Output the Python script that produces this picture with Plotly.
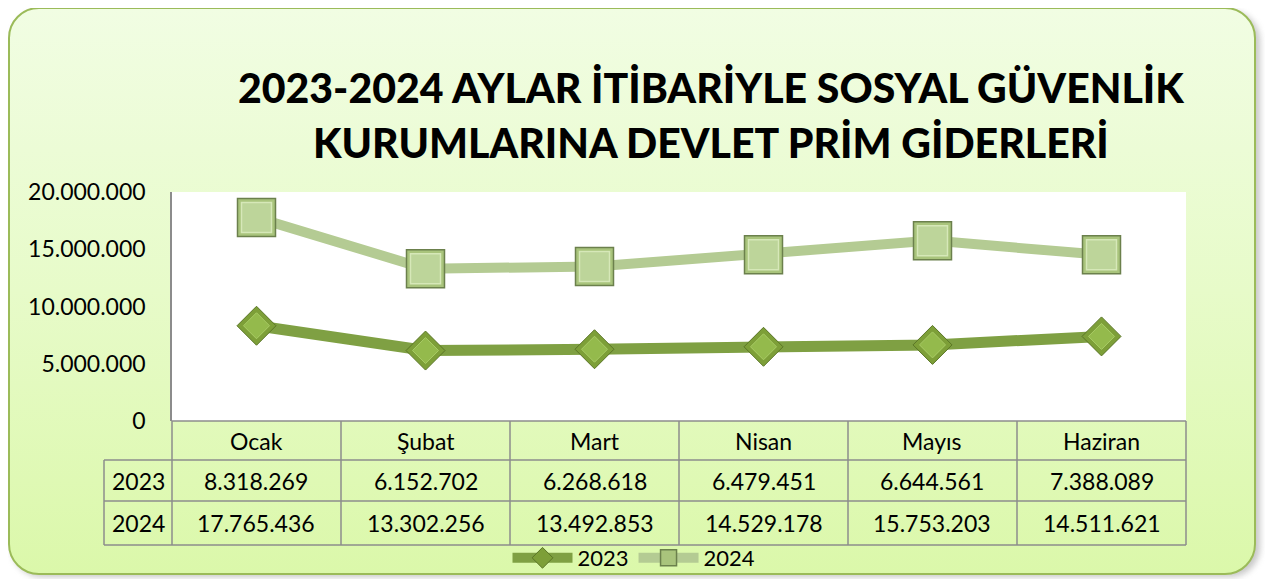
import base64
import plotly.graph_objects as go

# ---------------- data ----------------
months = ["Ocak", "Şubat", "Mart", "Nisan", "Mayıs", "Haziran"]
series_names = ["2023", "2024"]
values_2023 = [8318269, 6152702, 6268618, 6479451, 6644561, 7388089]
values_2024 = [17765436, 13302256, 13492853, 14529178, 15753203, 14511621]
y_ticks = [0, 5000000, 10000000, 15000000, 20000000]
title_lines = ["2023-2024 AYLAR İTİBARİYLE SOSYAL GÜVENLİK",
               "KURUMLARINA DEVLET PRİM GİDERLERİ"]

# ---------------- geometry (screen pixels) ----------------
W, H = 1273, 579
OFF = 8                   # page body margin compensation
PX0, PX1 = 172, 1186      # plot area x
PY0, PY1 = 192, 421       # plot area y (top, bottom)
LBL0 = 104                # table row-label column left edge
ROWS = [421, 460, 501, 545]
FONT = "Lato"


def fx(x):
    return (x - OFF) / W


def fy(y):
    return 1 - (y - OFF) / H


def fmt(v):
    return f"{v:,}".replace(",", ".")


o = OFF
# background as an SVG (gradient rounded panel + white plot area)
svg = f'''<svg xmlns="http://www.w3.org/2000/svg" width="{W}" height="{H}" viewBox="0 0 {W} {H}">
<defs>
<linearGradient id="g" x1="0" y1="0" x2="0" y2="1">
<stop offset="0" stop-color="#F1FDE3"/>
<stop offset="0.5" stop-color="#E7FBC9"/>
<stop offset="1" stop-color="#DBF8AA"/>
</linearGradient>
<filter id="s" x="-5%" y="-5%" width="110%" height="110%">
<feGaussianBlur stdDeviation="3"/>
</filter>
</defs>
<rect x="0" y="0" width="{W}" height="{H}" fill="#FFFFFF"/>
<rect x="{12-o}" y="{11-o}" width="1248" height="566" rx="30" ry="30" fill="#9A9A9A" opacity="0.55" filter="url(#s)"/>
<rect x="{8-o+1}" y="{7-o+1}" width="1246" height="566" rx="30" ry="30" fill="url(#g)" stroke="#9BBB59" stroke-width="2"/>
<rect x="{PX0-o}" y="{PY0-o}" width="{PX1-PX0}" height="{PY1-PY0}" fill="#FFFFFF"/>
</svg>'''
svg_uri = "data:image/svg+xml;base64," + base64.b64encode(svg.encode("utf-8")).decode()

fig = go.Figure()

# 2024 series
fig.add_trace(go.Scatter(
    x=months, y=values_2024, name=series_names[1], mode="lines+markers",
    line=dict(color="#B4CB93", width=10),
    marker=dict(symbol="square", size=38, color="#A9C47C",
                line=dict(color="#6B804C", width=1.5)),
))
fig.add_trace(go.Scatter(
    x=months, y=values_2024, mode="markers", showlegend=False, hoverinfo="skip",
    marker=dict(symbol="square", size=30, color="#BDD59A",
                line=dict(color="#D6E8B8", width=1.5)),
))
# 2023 series
fig.add_trace(go.Scatter(
    x=months, y=values_2023, name=series_names[0], mode="lines+markers",
    line=dict(color="#7FA043", width=11),
    marker=dict(symbol="diamond", size=30, color="#7D9F38",
                line=dict(color="#5A7526", width=1)),
))
fig.add_trace(go.Scatter(
    x=months, y=values_2023, mode="markers", showlegend=False, hoverinfo="skip",
    marker=dict(symbol="diamond", size=20, color="#94BA4C",
                line=dict(color="#A9CC66", width=1)),
))

shapes = []
grid = dict(color="#8C8C8C", width=1.5)
# horizontal table lines
shapes.append(dict(type="line", xref="paper", yref="paper",
                   x0=fx(PX0), x1=fx(PX1), y0=fy(ROWS[0]), y1=fy(ROWS[0]), line=grid))
for r in ROWS[1:]:
    shapes.append(dict(type="line", xref="paper", yref="paper",
                       x0=fx(LBL0), x1=fx(PX1), y0=fy(r), y1=fy(r), line=grid))
# vertical table lines
colw = (PX1 - PX0) / len(months)
for i in range(len(months) + 1):
    x = PX0 + i * colw
    shapes.append(dict(type="line", xref="paper", yref="paper",
                       x0=fx(x), x1=fx(x), y0=fy(ROWS[0]), y1=fy(ROWS[-1]), line=grid))
shapes.append(dict(type="line", xref="paper", yref="paper",
                   x0=fx(LBL0), x1=fx(LBL0), y0=fy(ROWS[1]), y1=fy(ROWS[-1]), line=grid))

annotations = []
for ln, yc in zip(title_lines, [87, 143]):
    annotations.append(dict(text=ln, xref="paper", yref="paper",
                            x=fx(711), y=fy(yc), showarrow=False,
                            xanchor="center", yanchor="middle",
                            font=dict(family=FONT, size=41, weight=900, color="#000000")))

cell_font = dict(family=FONT, size=23, color="#000000")
for i, m in enumerate(months):
    xc = PX0 + (i + 0.5) * colw
    annotations.append(dict(text=m, xref="paper", yref="paper", x=fx(xc),
                            y=fy((ROWS[0] + ROWS[1]) / 2), showarrow=False,
                            xanchor="center", yanchor="middle", font=cell_font))
    for r, vals in enumerate([values_2023, values_2024]):
        annotations.append(dict(text=fmt(vals[i]), xref="paper", yref="paper", x=fx(xc),
                                y=fy((ROWS[r + 1] + ROWS[r + 2]) / 2), showarrow=False,
                                xanchor="center", yanchor="middle", font=cell_font))
for r, nm in enumerate(series_names):
    annotations.append(dict(text=nm, xref="paper", yref="paper", x=fx((LBL0 + PX0) / 2),
                            y=fy((ROWS[r + 1] + ROWS[r + 2]) / 2), showarrow=False,
                            xanchor="center", yanchor="middle", font=cell_font))

fig.update_layout(
    template="none",
    width=W, height=H,
    margin=dict(l=0, r=0, t=0, b=0, pad=0, autoexpand=False),
    paper_bgcolor="#FFFFFF",
    plot_bgcolor="rgba(0,0,0,0)",
    separators=",.",
    images=[dict(source=svg_uri, xref="paper", yref="paper", x=0, y=1,
                 sizex=1, sizey=1, sizing="stretch", xanchor="left", yanchor="top",
                 layer="below")],
    xaxis=dict(domain=[fx(PX0), fx(PX1)], range=[-0.5, len(months) - 0.5],
               showticklabels=False, showgrid=False, zeroline=False, showline=False,
               ticks="", automargin=False, fixedrange=True),
    yaxis=dict(domain=[fy(PY1), fy(PY0)], range=[0, 20000000], tickvals=y_ticks,
               tickformat=",d", showgrid=False, zeroline=False,
               showline=True, linecolor="#8C8C8C", linewidth=1.5,
               ticks="", ticklabelstandoff=20, automargin=False,
               tickfont=dict(family=FONT, size=23, color="#000000"), fixedrange=True),
    showlegend=True,
    legend=dict(orientation="h", x=fx(634), y=fy(558), xanchor="center", yanchor="middle",
                bgcolor="rgba(0,0,0,0)", font=dict(family=FONT, size=22, color="#000000"),
                traceorder="reversed", itemsizing="trace", itemwidth=60),
    shapes=shapes,
    annotations=annotations,
)

fig.write_html("out.html")
